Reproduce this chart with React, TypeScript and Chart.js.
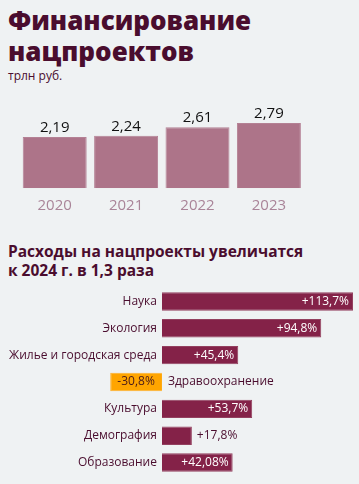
import React, { useEffect, useRef } from "react";
import { Chart, registerables } from "chart.js";

Chart.register(...registerables);

const years = ["2020", "2021", "2022", "2023"];
const funding = [2.19, 2.24, 2.61, 2.79];
const fundingLabels = ["2,19", "2,24", "2,61", "2,79"];

const projects = [
  "Наука",
  "Экология",
  "Жилье и городская среда",
  "Здравоохранение",
  "Культура",
  "Демография",
  "Образование",
];
const growth = [113.7, 94.8, 45.4, -30.8, 53.7, 17.8, 42.08];
const growthLabels = ["+113,7%", "+94,8%", "+45,4%", "-30,8%", "+53,7%", "+17,8%", "+42,08%"];

const BG = "#eff2f3";
const DARK = "#4a0d2e";
const FONT = "'Open Sans', 'Noto Sans', sans-serif";

export default function App() {
  const topRef = useRef<HTMLCanvasElement>(null);
  const botRef = useRef<HTMLCanvasElement>(null);

  useEffect(() => {
    document.body.style.margin = "0";
    document.body.style.background = BG;

    const topLabels = {
      id: "topLabels",
      afterDatasetsDraw(chart: any) {
        const ctx = chart.ctx;
        const meta = chart.getDatasetMeta(0);
        ctx.save();
        meta.data.forEach((bar: any, i: number) => {
          ctx.font = `15px ${FONT}`;
          ctx.fillStyle = "#111111";
          ctx.textAlign = "center";
          ctx.textBaseline = "alphabetic";
          ctx.fillText(fundingLabels[i], bar.x, bar.y - 5);
          ctx.fillStyle = "#a98498";
          ctx.fillText(years[i], bar.x, chart.chartArea.bottom + 22);
        });
        ctx.restore();
      },
    };

    const top = new Chart(topRef.current!, {
      type: "bar",
      data: {
        labels: years,
        datasets: [
          {
            data: funding,
            backgroundColor: "#ad7489",
            borderColor: "#b48194",
            borderWidth: 1,
            categoryPercentage: 1,
            barPercentage: 0.896,
          },
        ],
      },
      options: {
        animation: false,
        responsive: false,
        devicePixelRatio: 1,
        layout: { padding: { left: 19, right: 54.4, top: 18, bottom: 31.7 } },
        plugins: { legend: { display: false }, tooltip: { enabled: false } },
        scales: {
          x: { display: false },
          y: { display: false, min: 0, max: 3 },
        },
      },
      plugins: [topLabels],
    });

    const barLabels = {
      id: "barLabels",
      afterDatasetsDraw(chart: any) {
        const ctx = chart.ctx;
        const meta = chart.getDatasetMeta(0);
        ctx.save();
        ctx.font = `12px ${FONT}`;
        ctx.textBaseline = "middle";
        meta.data.forEach((bar: any, i: number) => {
          const v = growth[i];
          const txt = growthLabels[i];
          const w = ctx.measureText(txt).width;
          if (v >= 0) {
            ctx.fillStyle = DARK;
            ctx.textAlign = "right";
            ctx.fillText(projects[i], bar.base - 5, bar.y);
            if (bar.x - bar.base > w + 10) {
              ctx.fillStyle = "#ffffff";
              ctx.textAlign = "right";
              ctx.fillText(txt, bar.x - 4, bar.y);
            } else {
              ctx.fillStyle = DARK;
              ctx.textAlign = "left";
              ctx.fillText(txt, bar.x + 5, bar.y);
            }
          } else {
            ctx.fillStyle = DARK;
            ctx.textAlign = "left";
            ctx.fillText(projects[i], bar.base + 6, bar.y);
            ctx.fillStyle = "#4a1a1a";
            ctx.textAlign = "center";
            ctx.fillText(txt, (bar.x + bar.base) / 2, bar.y);
          }
        });
        ctx.restore();
      },
    };

    const bot = new Chart(botRef.current!, {
      type: "bar",
      data: {
        labels: projects,
        datasets: [
          {
            data: growth,
            backgroundColor: growth.map((v) => (v < 0 ? "#ffa500" : "#842248")),
            borderColor: growth.map((v) => (v < 0 ? "#ffb02a" : "#93405f")),
            borderWidth: 1,
            categoryPercentage: 1,
            barPercentage: 0.685,
          },
        ],
      },
      options: {
        indexAxis: "y",
        animation: false,
        responsive: false,
        devicePixelRatio: 1,
        layout: { padding: { left: 0, right: 6, top: 0, bottom: 0 } },
        plugins: { legend: { display: false }, tooltip: { enabled: false } },
        scales: {
          x: { display: false, min: -96.4, max: 113.7 },
          y: { display: false },
        },
      },
      plugins: [barLabels],
    });

    return () => {
      top.destroy();
      bot.destroy();
    };
  }, []);

  return (
    <div
      style={{
        position: "absolute",
        left: 0,
        top: 0,
        width: 359,
        height: 484,
        background: BG,
        overflow: "hidden",
        fontFamily: FONT,
      }}
    >
      <div
        style={{
          position: "absolute",
          left: 8,
          top: 5,
          fontSize: 26,
          fontWeight: 800,
          lineHeight: "31px",
          color: DARK,
        }}
      >
        Финансирование
        <br />
        нацпроектов
      </div>
      <div style={{ position: "absolute", left: 8, top: 67, fontSize: 12, color: DARK }}>трлн руб.</div>
      <canvas
        ref={topRef}
        width={359}
        height={120}
        style={{ position: "absolute", left: 0, top: 100 }}
      />
      <div
        style={{
          position: "absolute",
          left: 8,
          top: 242,
          fontSize: 15.5,
          fontWeight: 700,
          lineHeight: "18.5px",
          color: DARK,
        }}
      >
        Расходы на нацпроекты увеличатся
        <br />к 2024 г. в 1,3 раза
      </div>
      <canvas
        ref={botRef}
        width={359}
        height={188}
        style={{ position: "absolute", left: 0, top: 288 }}
      />
    </div>
  );
}
